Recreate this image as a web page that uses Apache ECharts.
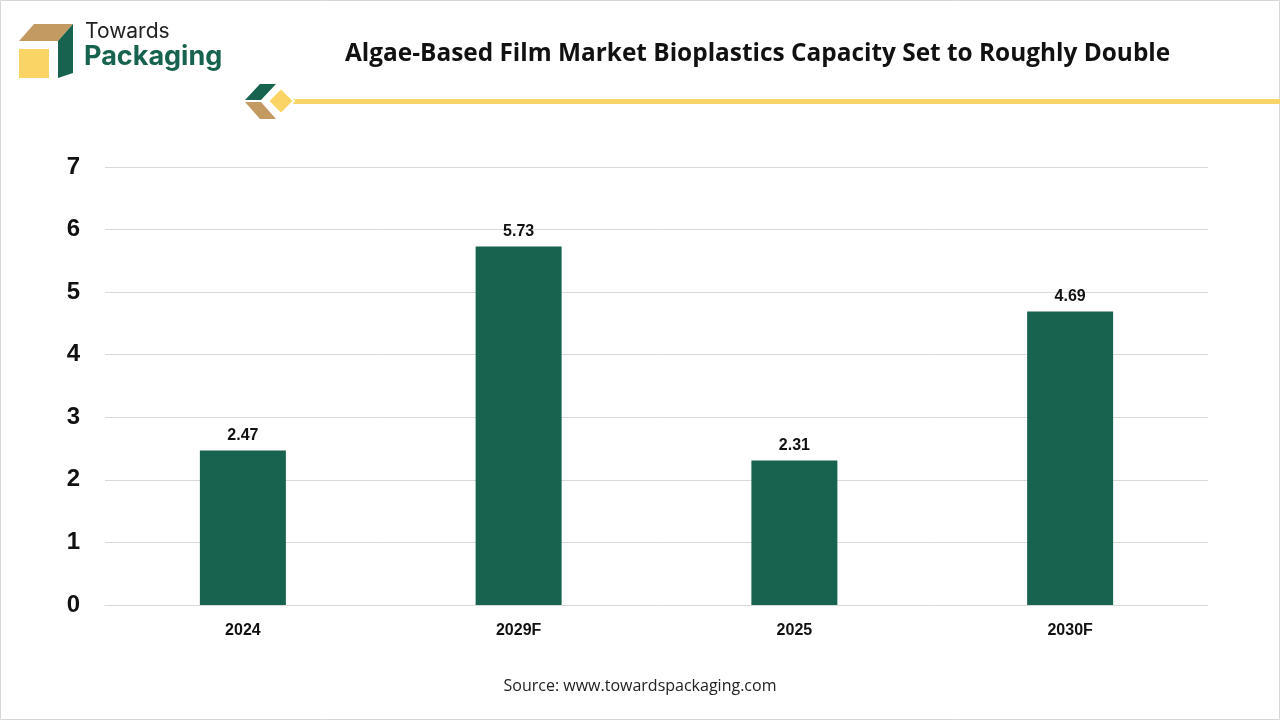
<!DOCTYPE html>
<html>
<head>
<meta charset="UTF-8">
<title>Algae-Based Film Market</title>
<script src="https://cdn.jsdelivr.net/npm/echarts@6/dist/echarts.min.js"></script>
<style>
    html, body { margin: 0; padding: 0; background: #fff; }
    #main { width: 1280px; height: 720px; }
</style>
</head>
<body>
<div id="main"></div>
<script>
    // chart data
    var categories = ['2024', '2029F', '2025', '2030F'];
    var capacity = [2.47, 5.73, 2.31, 4.69];
    var yTicks = [0, 1, 2, 3, 4, 5, 6, 7];

    var green = '#17634F';
    var tan = '#C49A63';
    var yellow = '#FAD565';

    var chart = echarts.init(document.getElementById('main'));
    chart.setOption({
        backgroundColor: '#fff',
        animation: false,
        grid: { left: 105, right: 72, top: 167, bottom: 115 },
        xAxis: {
            type: 'category',
            data: categories,
            axisLine: { show: true, lineStyle: { color: '#d9d9d9' } },
            axisTick: { show: false },
            axisLabel: { color: '#111', fontSize: 16, fontWeight: 'bold', fontFamily: 'Liberation Sans', margin: 18 }
        },
        yAxis: {
            type: 'value',
            min: yTicks[0],
            max: yTicks[yTicks.length - 1],
            interval: 1,
            axisLine: { show: false },
            axisTick: { show: false },
            splitLine: { lineStyle: { color: '#d9d9d9' } },
            axisLabel: { color: '#111', fontSize: 24, fontWeight: 'bold', fontFamily: 'Liberation Sans', margin: 25 }
        },
        series: [{
            type: 'bar',
            data: capacity,
            barWidth: 86,
            itemStyle: { color: green },
            label: {
                show: true,
                position: 'top',
                distance: 7,
                color: '#111',
                fontSize: 16,
                fontWeight: 'bold',
                fontFamily: 'Liberation Sans'
            }
        }],
        graphic: [
            // frame
            { type: 'rect', shape: { x: 0.5, y: 0.5, width: 1279, height: 719 }, style: { fill: 'none', stroke: '#d6d6d6', lineWidth: 1 } },
            // logo box
            { type: 'polygon', shape: { points: [[19, 41], [34, 24], [73, 24], [58, 41]] }, style: { fill: tan } },
            { type: 'polygon', shape: { points: [[58, 41], [73, 24], [73, 73], [58, 78]] }, style: { fill: green } },
            { type: 'rect', shape: { x: 19, y: 49, width: 30, height: 29 }, style: { fill: yellow } },
            { type: 'text', left: 85, top: 21, style: { text: 'Towards', fill: '#222', font: '21px Inter' } },
            { type: 'text', left: 84, top: 43, style: { text: 'Packaging', fill: green, font: 'bold 27px Inter' } },
            // title
            { type: 'text', left: 345, top: 42, style: { text: 'Algae-Based Film Market Bioplastics Capacity Set to Roughly Double', fill: '#111', font: 'bold 24.4px "Open Sans"' } },
            // divider ornament
            { type: 'rect', shape: { x: 288, y: 99, width: 992, height: 5 }, style: { fill: yellow } },
            { type: 'polygon', shape: { points: [[245, 100], [260, 84], [276, 84], [261, 100]] }, style: { fill: green } },
            { type: 'polygon', shape: { points: [[245, 102], [261, 102], [276, 119], [260, 119]] }, style: { fill: tan } },
            { type: 'polygon', shape: { points: [[281, 88], [294, 101], [281, 114], [268, 101]] }, style: { fill: yellow, stroke: '#fff', lineWidth: 2 } },
            // source
            { type: 'text', left: 'center', top: 678, style: { text: 'Source: www.towardspackaging.com', fill: '#222', font: '16px "Open Sans"' } }
        ]
    });
</script>
</body>
</html>
